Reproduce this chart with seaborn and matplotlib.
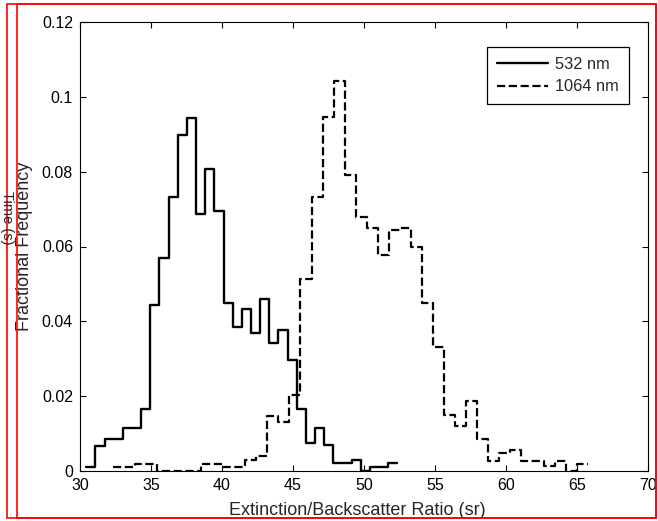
import numpy as np
import matplotlib
matplotlib.use("Agg")
import matplotlib.pyplot as plt
import seaborn as sns
from matplotlib.patches import Rectangle

# Fractional frequency per bin
freq_532 = [0.0011, 0.0068, 0.0085, 0.0085, 0.0114, 0.0114, 0.0166, 0.0444,
            0.0568, 0.0733, 0.0898, 0.0944, 0.0687, 0.0806, 0.0695, 0.0448,
            0.0386, 0.0432, 0.0368, 0.0460, 0.0341, 0.0377, 0.0297, 0.0165,
            0.0074, 0.0114, 0.0069, 0.0022, 0.0022, 0.0029, 0.0000, 0.0011,
            0.0011, 0.0022]
freq_1064 = [0.0011, 0.0011, 0.0020, 0.0020, 0.0000, 0.0000, 0.0000, 0.0000,
             0.0020, 0.0020, 0.0011, 0.0011, 0.0029, 0.0041, 0.0147, 0.0130,
             0.0203, 0.0512, 0.0733, 0.0945, 0.1043, 0.0791, 0.0678, 0.0649,
             0.0577, 0.0644, 0.0650, 0.0598, 0.0450, 0.0331, 0.0150, 0.0120,
             0.0187, 0.0085, 0.0028, 0.0049, 0.0056, 0.0028, 0.0028, 0.0013,
             0.0028, 0.0000, 0.0020]

# bin layout (sr)
start_532, width_532 = 30.44, 0.6445
start_1064, width_1064 = 32.30, 0.778

x_ticks = [30, 35, 40, 45, 50, 55, 60, 65, 70]
y_ticks = [0, 0.02, 0.04, 0.06, 0.08, 0.10, 0.12]
y_tick_labels = ["0", "0.02", "0.04", "0.06", "0.08", "0.1", "0.12"]

sns.set_style("ticks")
plt.rcParams["font.family"] = ["Liberation Sans", "DejaVu Sans"]

W, H = 658, 521
fig = plt.figure(figsize=(W / 100, H / 100), dpi=100)
ax = fig.add_axes([80 / W, 1 - 471 / H, 568 / W, 449 / H])

# step edges for each series
x_532 = start_532 + width_532 * np.arange(len(freq_532) + 1)
y_532 = freq_532 + [freq_532[-1]]
x_1064 = start_1064 + width_1064 * np.arange(len(freq_1064) + 1)
y_1064 = freq_1064 + [freq_1064[-1]]

sns.lineplot(x=x_532, y=y_532, drawstyle="steps-post", color="black",
             linewidth=1.7, estimator=None, errorbar=None, ax=ax,
             label="532 nm")
sns.lineplot(x=x_1064, y=y_1064, drawstyle="steps-post", color="black",
             linewidth=1.6, linestyle="--", estimator=None, errorbar=None,
             ax=ax, label="1064 nm")

ax.set_xlim(30, 70)
ax.set_ylim(0, 0.12)
ax.set_xticks(x_ticks)
ax.set_yticks(y_ticks)
ax.set_yticklabels(y_tick_labels)
ax.tick_params(direction="in", top=True, right=True, length=4, width=0.8,
               labelsize=11.5, colors="black")
ax.tick_params(axis="y", pad=5)
ax.tick_params(axis="x", pad=5)
for s in ax.spines.values():
    s.set_visible(True)
    s.set_color("black")
    s.set_linewidth(0.8)

ax.set_xlabel("Extinction/Backscatter Ratio (sr)", fontsize=13)
ax.set_ylabel("Fractional Frequency", fontsize=13)
ax.xaxis.set_label_coords(0.489, -0.068)
ax.yaxis.set_label_coords(-0.083, 0.5)

leg = ax.legend(loc="upper right", bbox_to_anchor=(0.9665, 0.944),
                borderaxespad=0, frameon=True, fancybox=False,
                edgecolor="black", framealpha=1, fontsize=11.8,
                handlelength=3.1, handletextpad=0.45, borderpad=0.6,
                labelspacing=0.45)
leg.get_frame().set_linewidth(0.9)

# leftover label and red frame lines from the source figure
fig.text(7 / W, 1 - 218 / H, "Time (s)", rotation=270, ha="center",
         va="center", fontsize=10.5)
fig.add_artist(Rectangle((7 / W, 1 - 518 / H), 649 / W, 514 / H,
                         transform=fig.transFigure, fill=False,
                         edgecolor="red", linewidth=1.2))
fig.add_artist(Rectangle((17 / W, 1 - 518 / H), 639 / W, 514 / H,
                         transform=fig.transFigure, fill=False,
                         edgecolor="red", linewidth=1.2))

fig.savefig("out.png", dpi=100)
